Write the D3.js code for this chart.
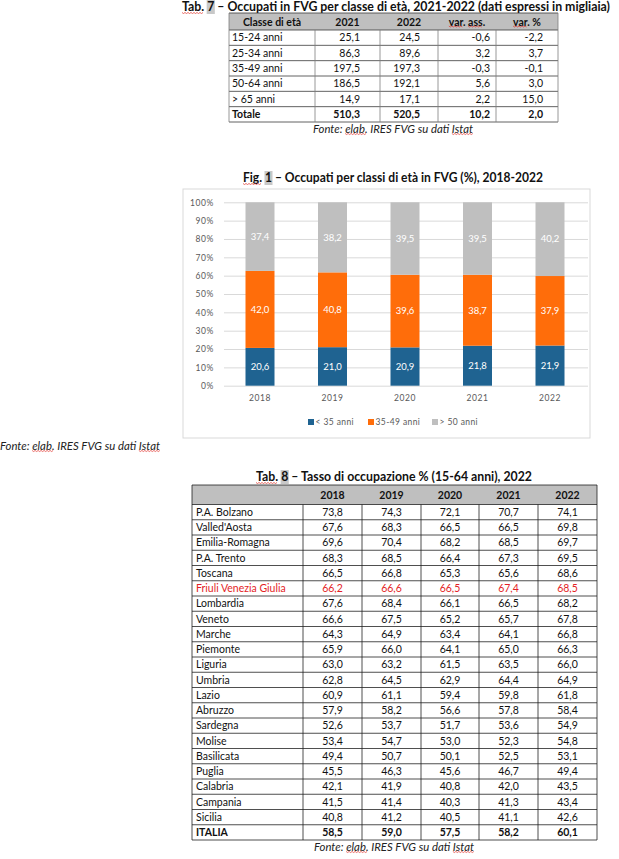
<!DOCTYPE html>
<html>
<head>
<meta charset="utf-8">
<script src="https://cdn.jsdelivr.net/npm/d3@7"></script>
<style>
  body { margin: 0; background: #fff; }
  svg { display: block; font-family: Lato, 'Liberation Sans', sans-serif; }
</style>
</head>
<body>
<div id="root"></div>
<script>
// Tab. 7 data.
const t7Headers = ['Classe di età', '2021', '2022', 'var. ass.', 'var. %'];
const t7Classes = ['15-24 anni', '25-34 anni', '35-49 anni', '50-64 anni', '> 65 anni', 'Totale'];
const t7Occ2021 = [25.1, 86.3, 197.5, 186.5, 14.9, 510.3];
const t7Occ2022 = [24.5, 89.6, 197.3, 192.1, 17.1, 520.5];
const t7VarAss = [-0.6, 3.2, -0.3, 5.6, 2.2, 10.2];
const t7VarPct = [-2.2, 3.7, -0.1, 3.0, 15.0, 2.0];

// Fig. 1 data.
const figYears = ['2018', '2019', '2020', '2021', '2022'];
const figSeries = ['< 35 anni', '35-49 anni', '> 50 anni'];
const under35 = [20.6, 21.0, 20.9, 21.8, 21.9];
const age35to49 = [42.0, 40.8, 39.6, 38.7, 37.9];
const over50 = [37.4, 38.2, 39.5, 39.5, 40.2];
const figTicks = [0, 10, 20, 30, 40, 50, 60, 70, 80, 90, 100];

// Tab. 8 data.
const t8Years = ['2018', '2019', '2020', '2021', '2022'];
const t8Regions = ['P.A. Bolzano', "Valled'Aosta", 'Emilia-Romagna', 'P.A. Trento', 'Toscana',
  'Friuli Venezia Giulia', 'Lombardia', 'Veneto', 'Marche', 'Piemonte', 'Liguria', 'Umbria',
  'Lazio', 'Abruzzo', 'Sardegna', 'Molise', 'Basilicata', 'Puglia', 'Calabria', 'Campania',
  'Sicilia', 'ITALIA'];
const t8Y2018 = [73.8, 67.6, 69.6, 68.3, 66.5, 66.2, 67.6, 66.6, 64.3, 65.9, 63.0, 62.8, 60.9, 57.9, 52.6, 53.4, 49.4, 45.5, 42.1, 41.5, 40.8, 58.5];
const t8Y2019 = [74.3, 68.3, 70.4, 68.5, 66.8, 66.6, 68.4, 67.5, 64.9, 66.0, 63.2, 64.5, 61.1, 58.2, 53.7, 54.7, 50.7, 46.3, 41.9, 41.4, 41.2, 59.0];
const t8Y2020 = [72.1, 66.5, 68.2, 66.4, 65.3, 66.5, 66.1, 65.2, 63.4, 64.1, 61.5, 62.9, 59.4, 56.6, 51.7, 53.0, 50.1, 45.6, 40.8, 40.3, 40.5, 57.5];
const t8Y2021 = [70.7, 66.5, 68.5, 67.3, 65.6, 67.4, 66.5, 65.7, 64.1, 65.0, 63.5, 64.4, 59.8, 57.8, 53.6, 52.3, 52.5, 46.7, 42.0, 41.3, 41.1, 58.2];
const t8Y2022 = [74.1, 69.8, 69.7, 69.5, 68.6, 68.5, 68.2, 67.8, 66.8, 66.3, 66.0, 64.9, 61.8, 58.4, 54.9, 54.8, 53.1, 49.4, 43.5, 43.4, 42.6, 60.1];

const fonteText = 'Fonte: elab. IRES FVG su dati Istat';

let width = 619;
let height = 859;

let svg = d3.select('#root')
  .append('svg')
  .attr('width', width)
  .attr('height', height);

// Number with comma as decimal separator.
let fmt = (v) => d3.format('.1f')(v).replace('−', '-').replace('.', ',');

// Red spell-check wave under chars [a, b) of a text node.
let squiggle = (t, a, b) => {
  let node = t.node();
  let e0 = node.getExtentOfChar(a);
  let e1 = node.getExtentOfChar(b - 1);
  let x0 = e0.x, x1 = e1.x + e1.width;
  let y = e0.y + e0.height - 1.5;
  let pts = [];
  for (let x = x0, k = 0; x <= x1; x += 1.5, k++) pts.push([x, y + (k % 2 ? 1 : 0)]);
  svg.append('path')
    .attr('d', d3.line()(pts))
    .attr('fill', 'none')
    .attr('stroke', '#e0302a')
    .attr('stroke-width', 0.7);
};

// Gray field shading behind one char of a title.
let shade = (t, i) => {
  let e = t.node().getExtentOfChar(i);
  svg.insert('rect', () => t.node())
    .attr('x', e.x - 0.5).attr('y', e.y + 1)
    .attr('width', e.width + 1).attr('height', e.height - 1)
    .attr('fill', '#c8c8c8');
};

let drawTitle = (cx, y, txt, len, size) => {
  return svg.append('text')
    .attr('x', cx).attr('y', y)
    .attr('text-anchor', 'middle')
    .attr('font-size', size)
    .attr('font-weight', 'bold')
    .attr('fill', '#111')
    .attr('textLength', len)
    .attr('lengthAdjust', 'spacingAndGlyphs')
    .text(txt);
};

let drawFonte = (x, y, anchor) => {
  let t = svg.append('text')
    .attr('x', x).attr('y', y)
    .attr('text-anchor', anchor)
    .attr('font-size', 10.5)
    .attr('font-style', 'italic')
    .attr('fill', '#222')
    .attr('textLength', 160)
    .attr('lengthAdjust', 'spacingAndGlyphs')
    .text(fonteText);
  squiggle(t, 7, 12);
  squiggle(t, 30, 35);
};

// ---------------- Tab. 7 ----------------
let drawTab7 = () => {
  let title = drawTitle(396, 11, 'Tab. 7 – Occupati in FVG per classe di età, 2021-2022 (dati espressi in migliaia)', 428, 12.5);
  shade(title, 5);
  squiggle(title, 0, 4);

  let cols = [229, 315, 380, 438, 496, 558];
  let pads = [0, 20, 18, 6, 15];
  let rowScale = d3.scaleBand().domain(t7Classes).range([30, 122]);
  let columns = [t7Classes, t7Occ2021, t7Occ2022, t7VarAss, t7VarPct];

  svg.append('rect')
    .attr('x', cols[0]).attr('y', 13)
    .attr('width', cols[5] - cols[0]).attr('height', 17)
    .attr('fill', '#bfbfbf');

  // horizontal rules
  let hy = [13].concat(t7Classes.map(c => rowScale(c))).concat([122]);
  svg.selectAll('.t7h').data(hy).enter().append('line')
    .attr('x1', cols[0]).attr('x2', cols[5])
    .attr('y1', d => d).attr('y2', d => d)
    .attr('stroke', '#3a3a3a').attr('stroke-width', 0.8);
  // vertical rules
  svg.selectAll('.t7v').data(cols).enter().append('line')
    .attr('x1', d => d).attr('x2', d => d)
    .attr('y1', (d, i) => (i === 0 || i === 5) ? 13 : 30).attr('y2', 122)
    .attr('stroke', '#7f7f7f').attr('stroke-width', 0.8);

  let heads = svg.selectAll('.t7head').data(t7Headers).enter().append('text')
    .attr('x', (d, i) => (cols[i] + cols[i + 1]) / 2)
    .attr('y', 25.5)
    .attr('text-anchor', 'middle')
    .attr('font-size', 10.5)
    .attr('font-weight', 'bold')
    .attr('fill', '#111')
    .text(d => d);
  squiggle(d3.select(heads.nodes()[3]), 0, 3);
  squiggle(d3.select(heads.nodes()[3]), 5, 8);
  squiggle(d3.select(heads.nodes()[4]), 0, 3);

  columns.forEach((vals, ci) => {
    svg.selectAll('.t7c' + ci).data(vals).enter().append('text')
      .attr('x', ci === 0 ? cols[0] + 3 : cols[ci + 1] - pads[ci])
      .attr('y', (d, i) => rowScale(t7Classes[i]) + rowScale.bandwidth() / 2 + 3.8)
      .attr('text-anchor', ci === 0 ? 'start' : 'end')
      .attr('font-size', 10.5)
      .attr('font-weight', (d, i) => i === t7Classes.length - 1 ? 'bold' : 'normal')
      .attr('fill', '#111')
      .text(d => ci === 0 ? d : fmt(d));
  });

  drawFonte(393, 133, 'middle');
};

// ---------------- Fig. 1 ----------------
let drawFig1 = () => {
  let title = drawTitle(393, 182, 'Fig. 1 – Occupati per classi di età in FVG (%), 2018-2022', 300, 12.5);
  shade(title, 5);
  squiggle(title, 0, 4);

  svg.append('rect')
    .attr('x', 183).attr('y', 189)
    .attr('width', 407).attr('height', 249)
    .attr('fill', '#fff')
    .attr('stroke', '#d9d9d9');

  let xScale = d3.scaleBand()
    .domain(figYears)
    .range([223.75, 586.25])
    .paddingInner(0.6)
    .paddingOuter(0.3);

  let yScale = d3.scaleLinear()
    .domain([0, 100])
    .range([385.7, 202.3]);

  let yAxis = d3.axisLeft(yScale)
    .tickValues(figTicks)
    .tickSizeInner(-(588 - 224))
    .tickSizeOuter(0)
    .tickPadding(10)
    .tickFormat(d => d + '%');

  let gy = svg.append('g')
    .attr('transform', 'translate(224, 0)')
    .call(yAxis);
  gy.select('.domain').remove();
  gy.selectAll('line').attr('stroke', '#d9d9d9');
  gy.selectAll('text').attr('font-size', 8.5).attr('fill', '#595959')
    .attr('font-family', 'Lato, sans-serif').attr('letter-spacing', 0.6);

  let rows = figYears.map((y, i) => ({ year: y, a: under35[i], b: age35to49[i], c: over50[i] }));
  let stacked = d3.stack().keys(['a', 'b', 'c'])(rows);
  let colors = ['#1f6391', '#ff6d0a', '#bfbfbf'];

  let groups = svg.selectAll('.series').data(stacked).enter().append('g')
    .attr('fill', (d, i) => colors[i]);

  groups.selectAll('rect').data(d => d).enter().append('rect')
    .attr('x', d => xScale(d.data.year))
    .attr('y', d => yScale(d[1]))
    .attr('width', xScale.bandwidth())
    .attr('height', d => yScale(d[0]) - yScale(d[1]));

  groups.selectAll('text').data(d => d).enter().append('text')
    .attr('x', d => xScale(d.data.year) + xScale.bandwidth() / 2)
    .attr('y', d => yScale((d[0] + d[1]) / 2) + 3.3)
    .attr('text-anchor', 'middle')
    .attr('font-size', 9.5)
    .attr('fill', '#fff')
    .text(d => fmt(d[1] - d[0]));

  let xAxis = d3.axisBottom(xScale).tickSize(0).tickPadding(9);
  let gx = svg.append('g')
    .attr('transform', 'translate(0, 385.7)')
    .call(xAxis);
  gx.select('.domain').remove();
  gx.selectAll('text').attr('font-size', 8.5).attr('fill', '#595959')
    .attr('font-family', 'Lato, sans-serif').attr('letter-spacing', 0.6);

  // legend
  let legX = d3.scaleOrdinal().domain(figSeries).range([308, 368, 432]);
  let leg = svg.selectAll('.leg').data(figSeries).enter().append('g')
    .attr('transform', d => `translate(${legX(d)}, 422)`);
  leg.append('rect')
    .attr('x', 0).attr('y', -3)
    .attr('width', 6).attr('height', 6)
    .attr('fill', (d, i) => colors[i]);
  leg.append('text')
    .attr('x', 7.5).attr('y', 3.2)
    .attr('font-size', 8.5)
    .attr('fill', '#595959')
    .attr('letter-spacing', 0.4)
    .text(d => d);

  drawFonte(0, 450, 'start');
};

// ---------------- Tab. 8 ----------------
let drawTab8 = () => {
  let title = drawTitle(394, 481, 'Tab. 8 – Tasso di occupazione % (15-64 anni), 2022', 276, 12.5);
  shade(title, 5);
  squiggle(title, 0, 4);

  let cols = [192, 303, 362, 421, 479, 538, 597];
  let rowScale = d3.scaleBand().domain(t8Regions).range([504.5, 840]);
  let columns = [t8Y2018, t8Y2019, t8Y2020, t8Y2021, t8Y2022];

  svg.append('rect')
    .attr('x', cols[0]).attr('y', 485)
    .attr('width', cols[6] - cols[0]).attr('height', 19.5)
    .attr('fill', '#bfbfbf');

  let hy = [485].concat(t8Regions.map(r => rowScale(r))).concat([840]);
  svg.selectAll('.t8h').data(hy).enter().append('line')
    .attr('x1', cols[0]).attr('x2', cols[6])
    .attr('y1', d => d).attr('y2', d => d)
    .attr('stroke', '#222').attr('stroke-width', 0.8);
  svg.selectAll('.t8v').data(cols).enter().append('line')
    .attr('x1', d => d).attr('x2', d => d)
    .attr('y1', (d, i) => (i === 0 || i === 6) ? 485 : 504.5).attr('y2', 840)
    .attr('stroke', '#222').attr('stroke-width', 0.8);

  svg.selectAll('.t8head').data(t8Years).enter().append('text')
    .attr('x', (d, i) => (cols[i + 1] + cols[i + 2]) / 2)
    .attr('y', 498.5)
    .attr('text-anchor', 'middle')
    .attr('font-size', 10.5)
    .attr('font-weight', 'bold')
    .attr('fill', '#111')
    .text(d => d);

  let rowColor = (r) => r === 'Friuli Venezia Giulia' ? '#e41e26' : '#111';
  let rowWeight = (r) => r === 'ITALIA' ? 'bold' : 'normal';

  svg.selectAll('.t8name').data(t8Regions).enter().append('text')
    .attr('x', cols[0] + 4)
    .attr('y', d => rowScale(d) + rowScale.bandwidth() / 2 + 3.8)
    .attr('font-size', 10.5)
    .attr('font-weight', rowWeight)
    .attr('fill', rowColor)
    .text(d => d);

  columns.forEach((vals, ci) => {
    svg.selectAll('.t8c' + ci).data(vals).enter().append('text')
      .attr('x', (cols[ci + 1] + cols[ci + 2]) / 2)
      .attr('y', (d, i) => rowScale(t8Regions[i]) + rowScale.bandwidth() / 2 + 3.8)
      .attr('text-anchor', 'middle')
      .attr('font-size', 10.5)
      .attr('font-weight', (d, i) => rowWeight(t8Regions[i]))
      .attr('fill', (d, i) => rowColor(t8Regions[i]))
      .text(d => fmt(d));
  });

  drawFonte(394, 851, 'middle');
};

drawTab7();
drawFig1();
drawTab8();
</script>
</body>
</html>
